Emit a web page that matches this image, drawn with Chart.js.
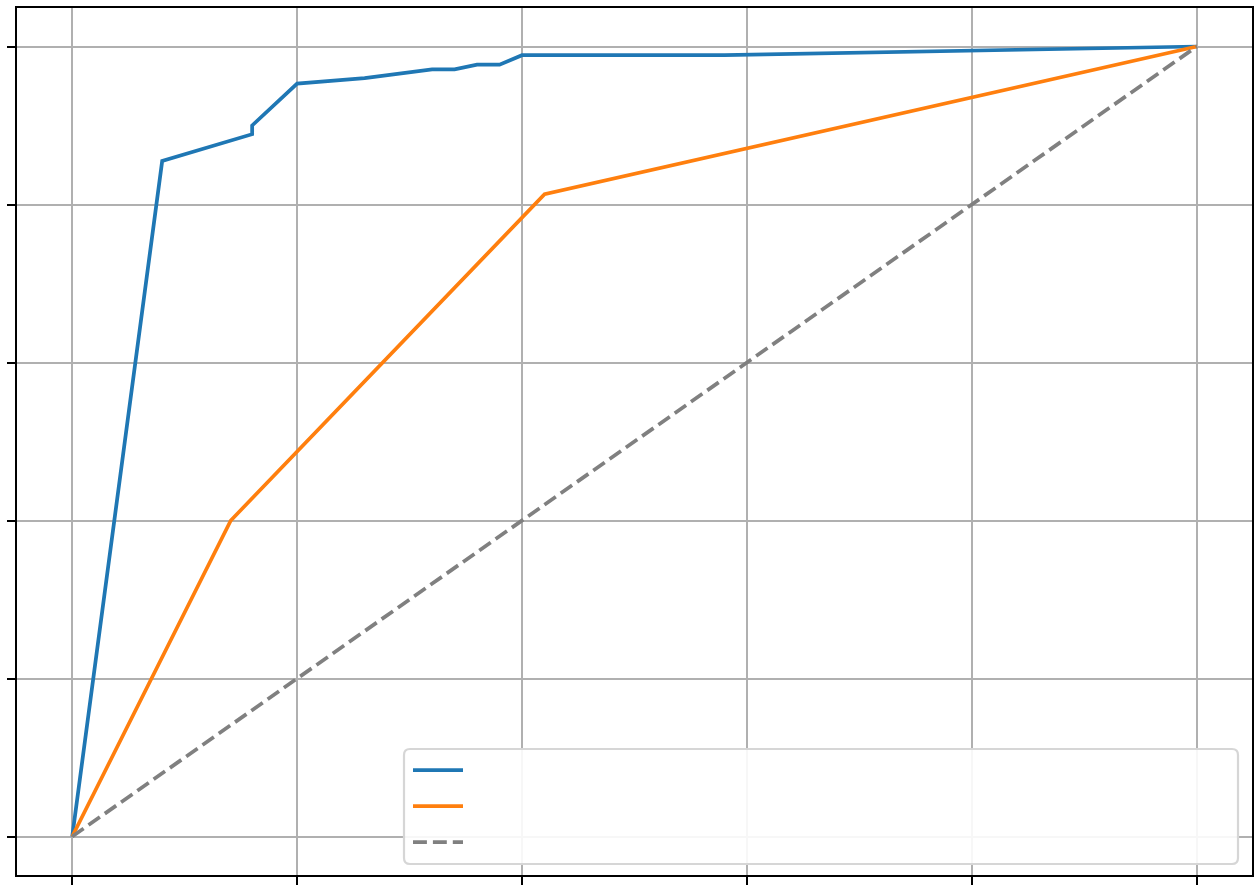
<!DOCTYPE html>
<html>
<head>
<meta charset="utf-8">
<script src="https://cdn.jsdelivr.net/npm/chart.js@4.4.0/dist/chart.umd.min.js"></script>
<style>
  html, body { margin: 0; padding: 0; background: #fff; }
  #wrap { width: 1257px; height: 893px; }
</style>
</head>
<body>
<div id="wrap"><canvas id="c" width="1257" height="893"></canvas></div>
<script>
// Data
const tickValues = [0, 0.2, 0.4, 0.6, 0.8, 1.0];

const blueFpr = [0, 0.08, 0.16, 0.16, 0.20, 0.26, 0.32, 0.34, 0.36, 0.38, 0.40, 0.58, 1.0];
const blueTpr = [0, 0.855, 0.889, 0.900, 0.953, 0.960, 0.971, 0.971, 0.977, 0.977, 0.989, 0.989, 1.0];

const orangeFpr = [0, 0.141, 0.420, 1.0];
const orangeTpr = [0, 0.400, 0.813, 1.0];

const chanceFpr = [0, 1];
const chanceTpr = [0, 1];

const seriesLabels = ['Model A', 'Model B', 'Chance'];
const seriesColors = ['#1f77b4', '#ff7f0e', '#808080'];

function pts(xs, ys) { return xs.map((x, i) => ({ x: x, y: ys[i] })); }

const LW = 3.75;
const DASH = [13.9, 6];

const framePlugin = {
  id: 'frame',
  afterDatasetsDraw(chart) {
    const { ctx, chartArea: a } = chart;
    ctx.save();
    ctx.strokeStyle = '#000';
    ctx.lineWidth = 2;
    ctx.beginPath();
    ctx.moveTo(a.left, a.top);
    ctx.lineTo(a.right, a.top);
    ctx.lineTo(a.right, a.bottom);
    ctx.stroke();
    ctx.restore();
  },
  afterDraw(chart) {
    const { ctx } = chart;
    // legend box (no text, as in the reference)
    const x = 404, y = 749, w = 834, h = 115, r = 6;
    ctx.save();
    ctx.beginPath();
    ctx.moveTo(x + r, y);
    ctx.lineTo(x + w - r, y);
    ctx.quadraticCurveTo(x + w, y, x + w, y + r);
    ctx.lineTo(x + w, y + h - r);
    ctx.quadraticCurveTo(x + w, y + h, x + w - r, y + h);
    ctx.lineTo(x + r, y + h);
    ctx.quadraticCurveTo(x, y + h, x, y + h - r);
    ctx.lineTo(x, y + r);
    ctx.quadraticCurveTo(x, y, x + r, y);
    ctx.closePath();
    ctx.fillStyle = 'rgba(255,255,255,0.9)';
    ctx.fill();
    ctx.strokeStyle = '#d6d6d6';
    ctx.lineWidth = 2.2;
    ctx.stroke();
    const rows = [770, 806, 842];
    rows.forEach((ry, i) => {
      ctx.beginPath();
      ctx.strokeStyle = seriesColors[i];
      ctx.lineWidth = LW;
      ctx.lineCap = 'butt';
      ctx.setLineDash(i === 2 ? DASH : []);
      ctx.moveTo(413, ry);
      ctx.lineTo(463, ry);
      ctx.stroke();
    });
    ctx.restore();
  }
};

const axisCommon = {
  type: 'linear',
  min: -0.05,
  max: 1.05,
  afterBuildTicks(scale) { scale.ticks = tickValues.map(v => ({ value: v })); },
  ticks: { display: false },
  grid: {
    color: '#b0b0b0',
    lineWidth: 2,
    drawTicks: true,
    tickLength: 9,
    tickColor: '#000',
    tickWidth: 2
  },
  border: { display: true, color: '#000', width: 2 }
};

new Chart(document.getElementById('c'), {
  type: 'scatter',
  data: {
    datasets: [
      { label: seriesLabels[0], data: pts(blueFpr, blueTpr), showLine: true, borderColor: seriesColors[0], backgroundColor: seriesColors[0], borderWidth: LW, pointRadius: 0, tension: 0, order: 3 },
      { label: seriesLabels[1], data: pts(orangeFpr, orangeTpr), showLine: true, borderColor: seriesColors[1], backgroundColor: seriesColors[1], borderWidth: LW, pointRadius: 0, tension: 0, order: 2 },
      { label: seriesLabels[2], data: pts(chanceFpr, chanceTpr), showLine: true, borderColor: seriesColors[2], backgroundColor: seriesColors[2], borderWidth: LW, borderDash: DASH, pointRadius: 0, tension: 0, order: 1 }
    ]
  },
  options: {
    responsive: false,
    animation: false,
    devicePixelRatio: 1,
    layout: { padding: { left: 7, top: 7, right: 4, bottom: 8 } },
    plugins: { legend: { display: false }, tooltip: { enabled: false } },
    scales: {
      x: Object.assign({}, axisCommon),
      y: Object.assign({}, axisCommon)
    }
  },
  plugins: [framePlugin]
});
</script>
</body>
</html>
